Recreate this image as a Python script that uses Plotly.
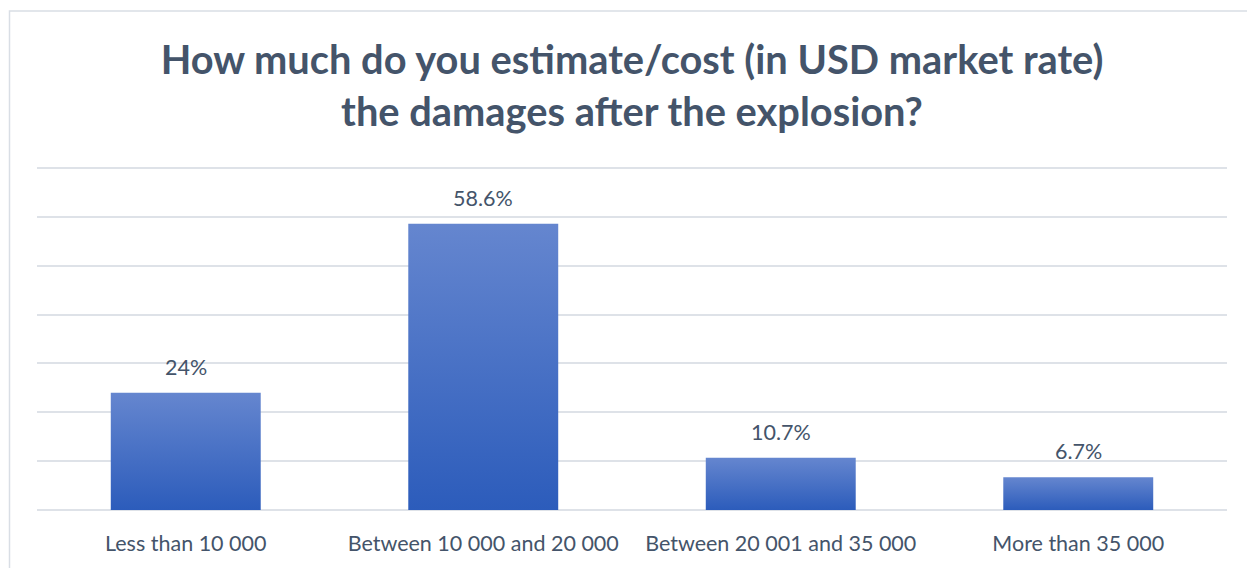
import plotly.graph_objects as go

categories = ["Less than 10 000", "Between 10 000 and 20 000",
              "Between 20 001 and 35 000", "More than 35 000"]
values = [24.0, 58.6, 10.7, 6.7]
labels = ["24%", "58.6%", "10.7%", "6.7%"]

FONT = "Lato"
TXT = "#44546A"
GRID = "#DEE2E8"
HALF = 0.252

fig = go.Figure()
for i, v in enumerate(values):
    fig.add_trace(go.Scatter(
        x=[i - HALF, i + HALF, i + HALF, i - HALF, i - HALF],
        y=[0, 0, v, v, 0],
        mode="lines", line=dict(width=0), fill="toself",
        fillcolor="#4472C4",
        fillgradient=dict(type="vertical", start=0, stop=v,
                          colorscale=[[0, "#2C5CBB"], [1, "#6586CF"]]),
        hoverinfo="skip", showlegend=False,
    ))

for i, (v, t) in enumerate(zip(values, labels)):
    fig.add_annotation(x=i, y=v, text=t, showarrow=False, yanchor="bottom",
                       yshift=11, font=dict(family=FONT, size=21.5, color=TXT))

# chart-area frame (left and top edges visible)
fig.add_shape(type="rect", xref="paper", yref="paper",
              x0=-27.5 / 1190, x1=1.05, y0=-0.2, y1=1 + 155 / 344,
              line=dict(color="#D9DEE5", width=1.5), layer="below")

fig.update_layout(
    width=1247, height=560,
    margin=dict(l=29, r=28, t=158, b=58, autoexpand=False),
    paper_bgcolor="white", plot_bgcolor="white",
    title=dict(text="How much do you estimate/cost (in USD market rate)<br>the damages after the explosion?",
               x=(632 - 8) / 1247, xanchor="center", xref="container",
               y=1 - 66 / 560, yanchor="top", yref="container",
               automargin=False,
               font=dict(family=FONT, size=39.8, color=TXT, weight="bold")),
    xaxis=dict(range=[-0.5, 3.5], tickmode="array", tickvals=list(range(len(categories))),
               ticktext=categories, showgrid=False, zeroline=False, showline=False,
               ticks="", ticklabelstandoff=18, automargin=False,
               tickfont=dict(family=FONT, size=21.5, color=TXT), fixedrange=True),
    yaxis=dict(range=[0, 70.4], tickmode="array", tickvals=[0, 10, 20, 30, 40, 50, 60, 70],
               showticklabels=False, showgrid=True,
               gridcolor=GRID, gridwidth=2, zeroline=True, zerolinecolor=GRID,
               zerolinewidth=2, showline=False, ticks="", fixedrange=True,
               automargin=False),
    showlegend=False,
)

fig.write_html("out.html")
